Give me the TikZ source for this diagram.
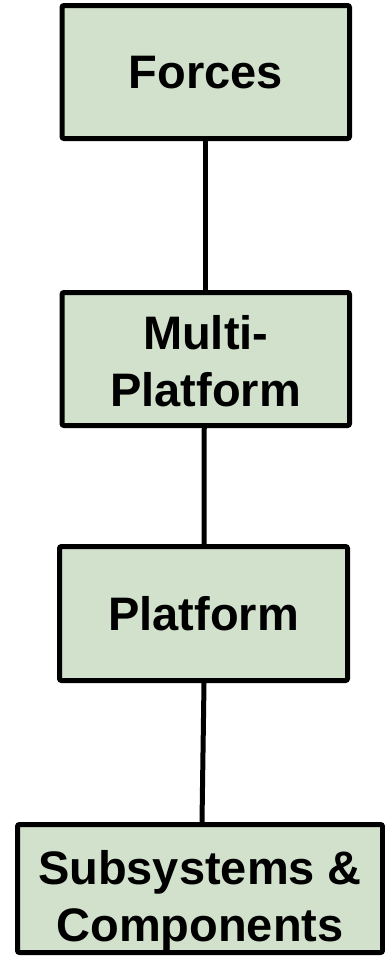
\documentclass[tikz,border=0pt]{standalone}
\usepackage{fontspec}
\setmainfont{Liberation Sans}
\definecolor{boxfill}{RGB}{210,225,203}
\begin{document}
\begin{tikzpicture}[x=1pt,y=-1pt,
  level/.style={draw=black, line width=5pt, fill=boxfill, rounded corners=2pt,
    inner sep=0pt},
  lbl/.style={align=center, inner sep=0pt,
    font=\fontsize{47}{57}\selectfont\bfseries},
  link/.style={draw=black, line width=5pt}]
  \useasboundingbox (0,0) rectangle (385,959);
  % level boxes
  \node[level, minimum width=287.5pt, minimum height=133pt] (forces) at (205.75,72) {};
  \node[level, minimum width=287.5pt, minimum height=133pt] (multi) at (205.75,359) {};
  \node[level, minimum width=288pt, minimum height=134pt] (platform) at (203.5,613.5) {};
  \node[level, minimum width=365pt, minimum height=128pt] (subsys) at (200,888.5) {};
  % box captions
  \node[lbl] (forcestxt) at (205.75,72.5) {Forces};
  \node[lbl] (multitxt) at (205.75,361.5) {Multi-\\Platform};
  \node[lbl] (platformtxt) at (203.5,613.5) {Platform};
  \node[lbl] (subsystxt) at (200,901) {Subsystems \&\\Components};
  % connectors between levels
  \draw[link] (forces.south) -- (multi.north);
  \draw[link] ([xshift=-1.5pt]multi.south) -- ([xshift=0.5pt]platform.north);
  \draw[link] ([xshift=0.5pt]platform.south) -- ([xshift=2pt]subsys.north);
\end{tikzpicture}
\end{document}
